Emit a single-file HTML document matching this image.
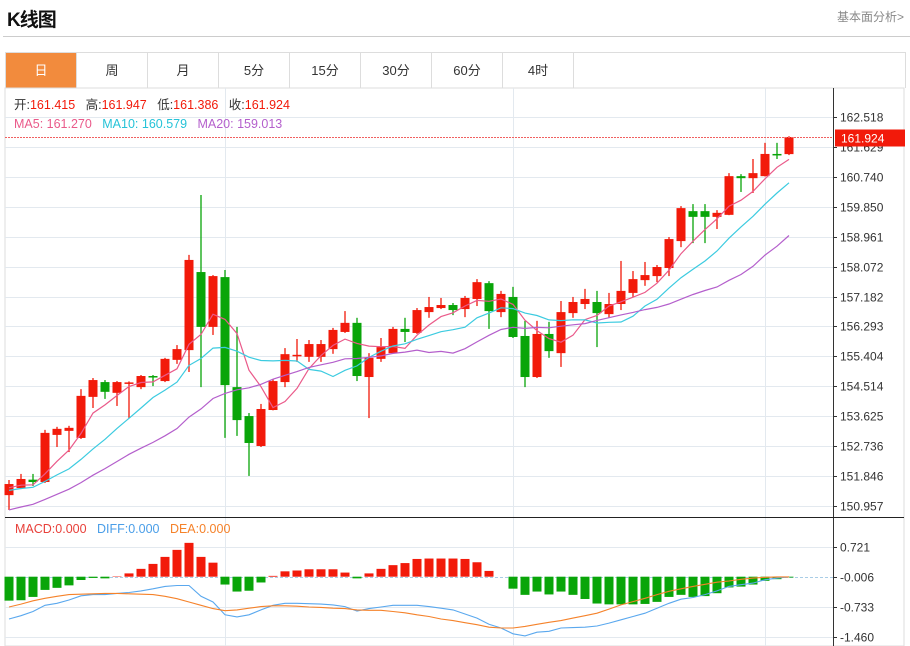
<!DOCTYPE html>
<html><head><meta charset="utf-8">
<style>
body{margin:0;width:910px;height:646px;background:#fff;font-family:"Liberation Sans","Noto Sans CJK SC",sans-serif;overflow:hidden;position:relative}
.title{position:absolute;left:7px;top:5px;font-size:19px;font-weight:bold;color:#111;letter-spacing:-1px}
.more{position:absolute;right:6px;top:8px;font-size:12px;color:#888}
.hr{position:absolute;left:3px;top:36px;width:907px;height:1px;background:#ccc}
.tabs{position:absolute;left:5px;top:52px;width:899px;height:35px;border:1px solid #ddd;border-bottom:none;display:flex}
.tab{width:70px;height:35px;border-right:1px solid #ddd;text-align:center;line-height:35px;font-size:13px;color:#333;flex:none}
.tab.on{background:#f28b3d;color:#fff}
svg{position:absolute;left:0;top:0}
</style></head><body>
<div class="title">K线图</div>
<div class="more">基本面分析&gt;</div>
<div class="hr"></div>
<div class="tabs">
<div class="tab on">日</div>
<div class="tab">周</div>
<div class="tab">月</div>
<div class="tab">5分</div>
<div class="tab">15分</div>
<div class="tab">30分</div>
<div class="tab">60分</div>
<div class="tab">4时</div>
</div>
<svg id="chart" width="910" height="646"></svg>
<script>
const opens=[151.28,151.49,151.74,151.67,153.07,153.19,152.98,154.20,154.64,154.32,154.60,154.49,154.82,154.67,155.30,155.59,157.91,156.28,157.76,154.49,153.63,152.74,153.81,154.64,155.42,155.39,155.39,155.62,156.13,156.40,154.79,155.33,155.50,156.22,156.10,156.72,156.84,156.93,156.81,157.11,157.58,156.72,157.17,156.01,154.79,156.07,155.50,156.69,156.96,157.02,156.66,156.96,157.29,157.67,157.79,158.03,158.83,159.72,159.72,159.55,159.61,160.76,160.70,160.76,161.42,161.415];
const closes=[151.61,151.76,151.67,153.13,153.25,153.28,154.23,154.70,154.35,154.64,154.63,154.82,154.78,155.33,155.62,158.27,156.28,157.79,154.55,153.51,152.83,153.84,154.67,155.47,155.45,155.77,155.77,156.19,156.40,154.82,155.36,155.68,156.22,156.13,156.78,156.87,156.93,156.78,157.14,157.61,156.75,157.26,155.98,154.79,156.07,155.56,156.72,157.02,157.11,156.69,156.96,157.35,157.70,157.82,158.06,158.89,159.81,159.55,159.55,159.67,160.76,160.70,160.85,161.42,161.39,161.924];
const highs=[151.73,151.91,151.91,153.22,153.31,153.34,154.43,154.76,154.70,154.67,154.66,154.85,154.85,155.36,155.74,158.42,160.20,157.82,157.97,156.28,153.72,153.99,154.73,155.65,155.92,155.89,155.89,156.25,156.75,156.55,155.50,155.95,156.28,156.55,156.84,157.17,157.14,156.99,157.20,157.70,157.64,157.35,157.47,156.46,156.46,156.43,157.05,157.17,157.41,157.35,157.29,158.24,157.94,158.21,158.12,158.95,159.87,159.93,159.93,159.75,160.85,160.82,161.27,161.75,161.75,161.947];
const lows=[150.84,151.46,151.55,151.64,152.71,152.56,152.95,153.87,154.14,153.93,153.57,154.43,154.52,154.64,155.18,154.94,154.49,156.04,152.98,153.04,151.85,152.71,153.80,154.49,155.24,155.24,155.24,155.48,156.10,154.67,153.57,155.24,155.48,155.83,156.07,156.55,156.81,156.63,156.57,156.90,156.22,156.57,155.95,154.49,154.76,155.36,155.09,156.55,156.81,155.68,156.55,156.78,157.17,157.50,157.61,157.79,158.65,158.77,158.77,159.19,159.60,160.29,160.26,160.75,161.27,161.386];
const prevCloses=[150.0,150.1,150.2,150.2,150.3,150.3,150.3,150.4,150.4,150.4,151.2,151.3,151.4,151.3,151.5,151.4,151.6,151.5,151.4];
const priceTicks=["162.518","161.629","160.740","159.850","158.961","158.072","157.182","156.293","155.404","154.514","153.625","152.736","151.846","150.957"];
const macdHist=[-0.58,-0.57,-0.49,-0.32,-0.27,-0.21,-0.08,-0.03,-0.04,0.01,0.08,0.19,0.31,0.48,0.65,0.82,0.48,0.34,-0.19,-0.36,-0.34,-0.14,0.02,0.13,0.15,0.18,0.18,0.18,0.10,-0.04,0.08,0.19,0.28,0.33,0.43,0.44,0.44,0.44,0.43,0.35,0.14,0.0,-0.29,-0.44,-0.36,-0.43,-0.36,-0.44,-0.54,-0.65,-0.67,-0.67,-0.67,-0.66,-0.61,-0.49,-0.44,-0.49,-0.47,-0.40,-0.26,-0.24,-0.19,-0.10,-0.06,-0.02];
const diffVals=[-1.03,-0.95,-0.85,-0.70,-0.65,-0.57,-0.47,-0.44,-0.44,-0.41,-0.39,-0.35,-0.30,-0.24,-0.22,-0.22,-0.48,-0.62,-0.93,-0.98,-0.93,-0.81,-0.70,-0.65,-0.65,-0.66,-0.67,-0.69,-0.73,-0.84,-0.78,-0.74,-0.70,-0.70,-0.70,-0.73,-0.77,-0.81,-0.91,-1.01,-1.16,-1.25,-1.39,-1.44,-1.35,-1.33,-1.25,-1.24,-1.23,-1.20,-1.13,-1.05,-0.97,-0.89,-0.77,-0.65,-0.55,-0.51,-0.44,-0.35,-0.24,-0.20,-0.16,-0.08,-0.04,-0.01];
const deaVals=[-0.74,-0.67,-0.59,-0.53,-0.48,-0.44,-0.43,-0.42,-0.41,-0.41,-0.42,-0.43,-0.44,-0.48,-0.54,-0.62,-0.70,-0.78,-0.83,-0.81,-0.77,-0.73,-0.71,-0.71,-0.72,-0.74,-0.75,-0.77,-0.78,-0.81,-0.82,-0.82,-0.85,-0.88,-0.93,-0.97,-1.03,-1.07,-1.12,-1.17,-1.23,-1.25,-1.25,-1.21,-1.16,-1.11,-1.07,-1.01,-0.95,-0.89,-0.79,-0.69,-0.61,-0.53,-0.44,-0.36,-0.30,-0.24,-0.19,-0.14,-0.11,-0.07,-0.04,-0.02,-0.01,-0.01];
const macdTicks=["0.721","-0.006","-0.733","-1.460"];

const svg=document.getElementById('chart');
const NS='http://www.w3.org/2000/svg';
function mk(tag,attrs,parent){const e=document.createElementNS(NS,tag);for(const k in attrs)e.setAttribute(k,attrs[k]);(parent||svg).appendChild(e);return e;}
const pTop=162.518,pBot=150.957,yTop=117,yBot=506;
function yP(p){return yTop+(pTop-p)*(yBot-yTop)/(pTop-pBot);}
function xI(i){return 9+12*i;}
function yM(v){return 576.7-(v+0.006)*41.27;}
const RED='#f21a0a',GREEN='#09a509';

let g=mk('rect',{x:5,y:88,width:899,height:558,fill:'none',stroke:'#ddd'});


priceTicks.forEach((t,k)=>{
  const v=parseFloat(t),y=Math.round(yP(v))+0.5;
  const l=mk('line',{x1:5,x2:833,y1:y,y2:y,stroke:'#e3e9ef'});
  
  
  mk('line',{x1:833,x2:837,y1:y,y2:y,stroke:'#333'});
  const tx=mk('text',{x:840,y:y+4,'font-size':12,fill:'#333'});tx.textContent=t;
  
  
});
[225,513,765].forEach(x=>{
  const l=mk('line',{x1:x+0.5,x2:x+0.5,y1:88,y2:646,stroke:'#e3e9ef'});
  
  
});
macdTicks.forEach((t,k)=>{
  const y=Math.round(yM(parseFloat(t)))+0.5;
  const l=mk('line',{x1:5,x2:833,y1:y,y2:y,stroke:k==1?'#a9cde6':'#e3e9ef','stroke-dasharray':k==1?'3,2':''});
  
  
  mk('line',{x1:833,x2:837,y1:y,y2:y,stroke:'#333'});
  const tx=mk('text',{x:840,y:y+4,'font-size':12,fill:'#333'});tx.textContent=t;
  
  
});
mk('line',{x1:833.5,x2:833.5,y1:88,y2:646,stroke:'#333'});
g=mk('line',{x1:5,x2:904,y1:517.5,y2:517.5,stroke:'#222'});



for(let i=0;i<opens.length;i++){
  const up=closes[i]>=opens[i],c=up?RED:GREEN,x=xI(i);
  const cg=mk('g',{});
  
  
  mk('line',{x1:x,x2:x,y1:yP(highs[i]),y2:yP(lows[i]),stroke:c,'stroke-width':1.3},cg);
  const t=yP(Math.max(opens[i],closes[i])),b=yP(Math.min(opens[i],closes[i]));
  mk('rect',{x:x-4.5,y:t,width:9,height:Math.max(1.5,b-t),fill:c},cg);
}
const all=prevCloses.concat(closes);
function ma(n){return closes.map((c,i)=>{const j=i+prevCloses.length;const s=all.slice(Math.max(0,j-n+1),j+1);return s.reduce((a,b)=>a+b,0)/s.length;});}
[[5,'#ea5a8a','ma5-line'],[10,'#3ccbe0','ma10-line'],[20,'#b45fcc','ma20-line']].forEach(([n,col,name])=>{
  const pts=ma(n).map((v,i)=>xI(i)+','+yP(v).toFixed(1)).join(' ');
  const p=mk('polyline',{points:pts,fill:'none',stroke:col,'stroke-width':1.2});
  
  
});
const ly=Math.round(yP(closes[closes.length-1]))+0.5;
g=mk('line',{x1:5,x2:833,y1:ly,y2:ly,stroke:'#f06060','stroke-dasharray':'2,1'});


g=mk('rect',{x:835,y:ly-8,width:70,height:17,fill:'#f21a0a'});


g=mk('text',{x:841,y:ly+5,'font-size':12,fill:'#fff'});g.textContent=closes[closes.length-1].toFixed(3);



macdHist.forEach((v,i)=>{
  const y0=yM(-0.006),y1=yM(v-0.006);
  const r=mk('rect',{x:xI(i)-4.5,y:Math.min(y0,y1),width:9,height:Math.abs(y1-y0),fill:v>=0?RED:GREEN});
  
  
});
[[diffVals,'#5aa8ee','diff-line'],[deaVals,'#f5822a','dea-line']].forEach(([arr,col,name])=>{
  const p=mk('polyline',{points:arr.map((v,i)=>xI(i)+','+yM(v).toFixed(1)).join(' '),fill:'none',stroke:col,'stroke-width':1.1});
  
  
});

function leg(x,y,parts,name){
  const t=mk('text',{x:x,y:y,'font-size':12.5});
  
  
  parts.forEach(([s,c])=>{const ts=mk('tspan',{fill:c},t);ts.textContent=s;});
}
leg(14,109,[['开:','#333'],['161.415  ','#f21a0a'],[' 高:','#333'],['161.947  ','#f21a0a'],[' 低:','#333'],['161.386  ','#f21a0a'],[' 收:','#333'],['161.924','#f21a0a']],'ohlc-legend');
leg(14,128,[['MA5: 161.270   ','#ea5a8a'],['MA10: 160.579   ','#26c3d8'],['MA20: 159.013','#b45fcc']],'ma-legend');
leg(15,533,[['MACD:0.000   ','#e8403a'],['DIFF:0.000   ','#4a9ee8'],['DEA:0.000','#f5822a']],'macd-legend');
svg.querySelectorAll('text').forEach(t=>{t.setAttribute('xml:space','preserve');t.style.whiteSpace='pre';});
</script>
</body></html>
